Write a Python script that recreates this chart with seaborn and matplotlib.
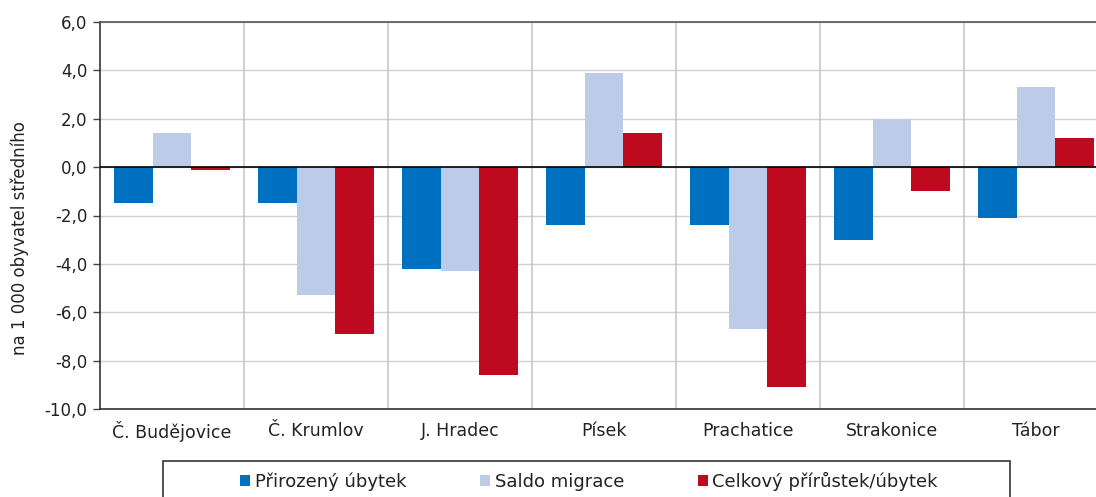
import matplotlib
matplotlib.use("Agg")
import matplotlib.pyplot as plt
import matplotlib.patches as mpatches
import seaborn as sns
import pandas as pd
import numpy as np

categories = ["Č. Budějovice", "Č. Krumlov", "J. Hradec", "Písek", "Prachatice", "Strakonice", "Tábor"]
series = ["Přirozený úbytek", "Saldo migrace", "Celkový přírůstek/úbytek"]
prirozeny = [-1.5, -1.5, -4.2, -2.4, -2.4, -3.0, -2.1]
saldo = [1.4, -5.3, -4.3, 3.9, -6.7, 2.0, 3.3]
celkovy = [-0.1, -6.9, -8.6, 1.4, -9.1, -1.0, 1.2]
colors = ["#0070C0", "#BCCCE8", "#BE0A1E"]

rows = []
for name, vals in zip(series, [prirozeny, saldo, celkovy]):
    for c, v in zip(categories, vals):
        rows.append({"okres": c, "serie": name, "hodnota": v})
df = pd.DataFrame(rows)

sns.set_theme(style="white")
plt.rcParams["font.family"] = ["DejaVu Sans"]

fig = plt.figure(figsize=(10.96, 4.97), dpi=100)
W, H = 1096, 497
ax = fig.add_axes([100 / W, 1 - 409 / H, (1108 - 100) / W, (409 - 22) / H])

sns.barplot(data=df, x="okres", y="hodnota", hue="serie", palette=colors,
            order=categories, hue_order=series, width=0.8, ax=ax,
            saturation=1, legend=False, edgecolor="none")

ax.set_ylim(-10, 6)
ax.set_xlim(-0.5, len(categories) - 0.5)
yt = np.arange(-10, 7, 2)
ax.set_yticks(yt)
ax.set_yticklabels([f"{v:.1f}".replace(".", ",") for v in yt], fontsize=12, color="#222222")
ax.set_xticks(range(len(categories)))
ax.set_xticklabels(categories, fontsize=12.5, color="#222222")
ax.tick_params(axis="x", length=0, pad=9)
ax.tick_params(axis="y", length=5, width=1, color="#444444", direction="out", left=True, pad=4)

for y in yt:
    ax.axhline(y, color="#D0D0D0", lw=1, zorder=0)
for i in range(1, len(categories)):
    ax.axvline(i - 0.5, color="#C8C8C8", lw=1.2, zorder=0)
ax.axhline(0, color="black", lw=1.2, zorder=3)

for s in ["left", "bottom", "top"]:
    ax.spines[s].set_color("#333333")
    ax.spines[s].set_linewidth(1.2)
ax.spines["right"].set_visible(False)
ax.spines["top"].set_color("#555555")

ax.set_xlabel("")
ax.set_ylabel("na 1 000 obyvatel středního", fontsize=12, color="#222222")
ax.yaxis.set_label_coords((29 - 100) / 1008, (409 - 238) / 387)

# legend
handles = [mpatches.Patch(facecolor=c, edgecolor="none", label=s) for c, s in zip(colors, series)]
leg = fig.legend(handles=handles, loc="center", bbox_to_anchor=(589 / W, 1 - 481 / H),
                 ncol=3, frameon=False, fontsize=13, handlelength=0.55, handleheight=0.55,
                 handletextpad=0.25, columnspacing=4.1)
for t in leg.get_texts():
    t.set_color("#222222")
frame = mpatches.Rectangle((163 / W, 1 - 505 / H), (1010 - 163) / W, (505 - 461) / H,
                           transform=fig.transFigure, fill=False, edgecolor="#333333", lw=1.2)
fig.patches.append(frame)

fig.savefig("out.png", dpi=100)
